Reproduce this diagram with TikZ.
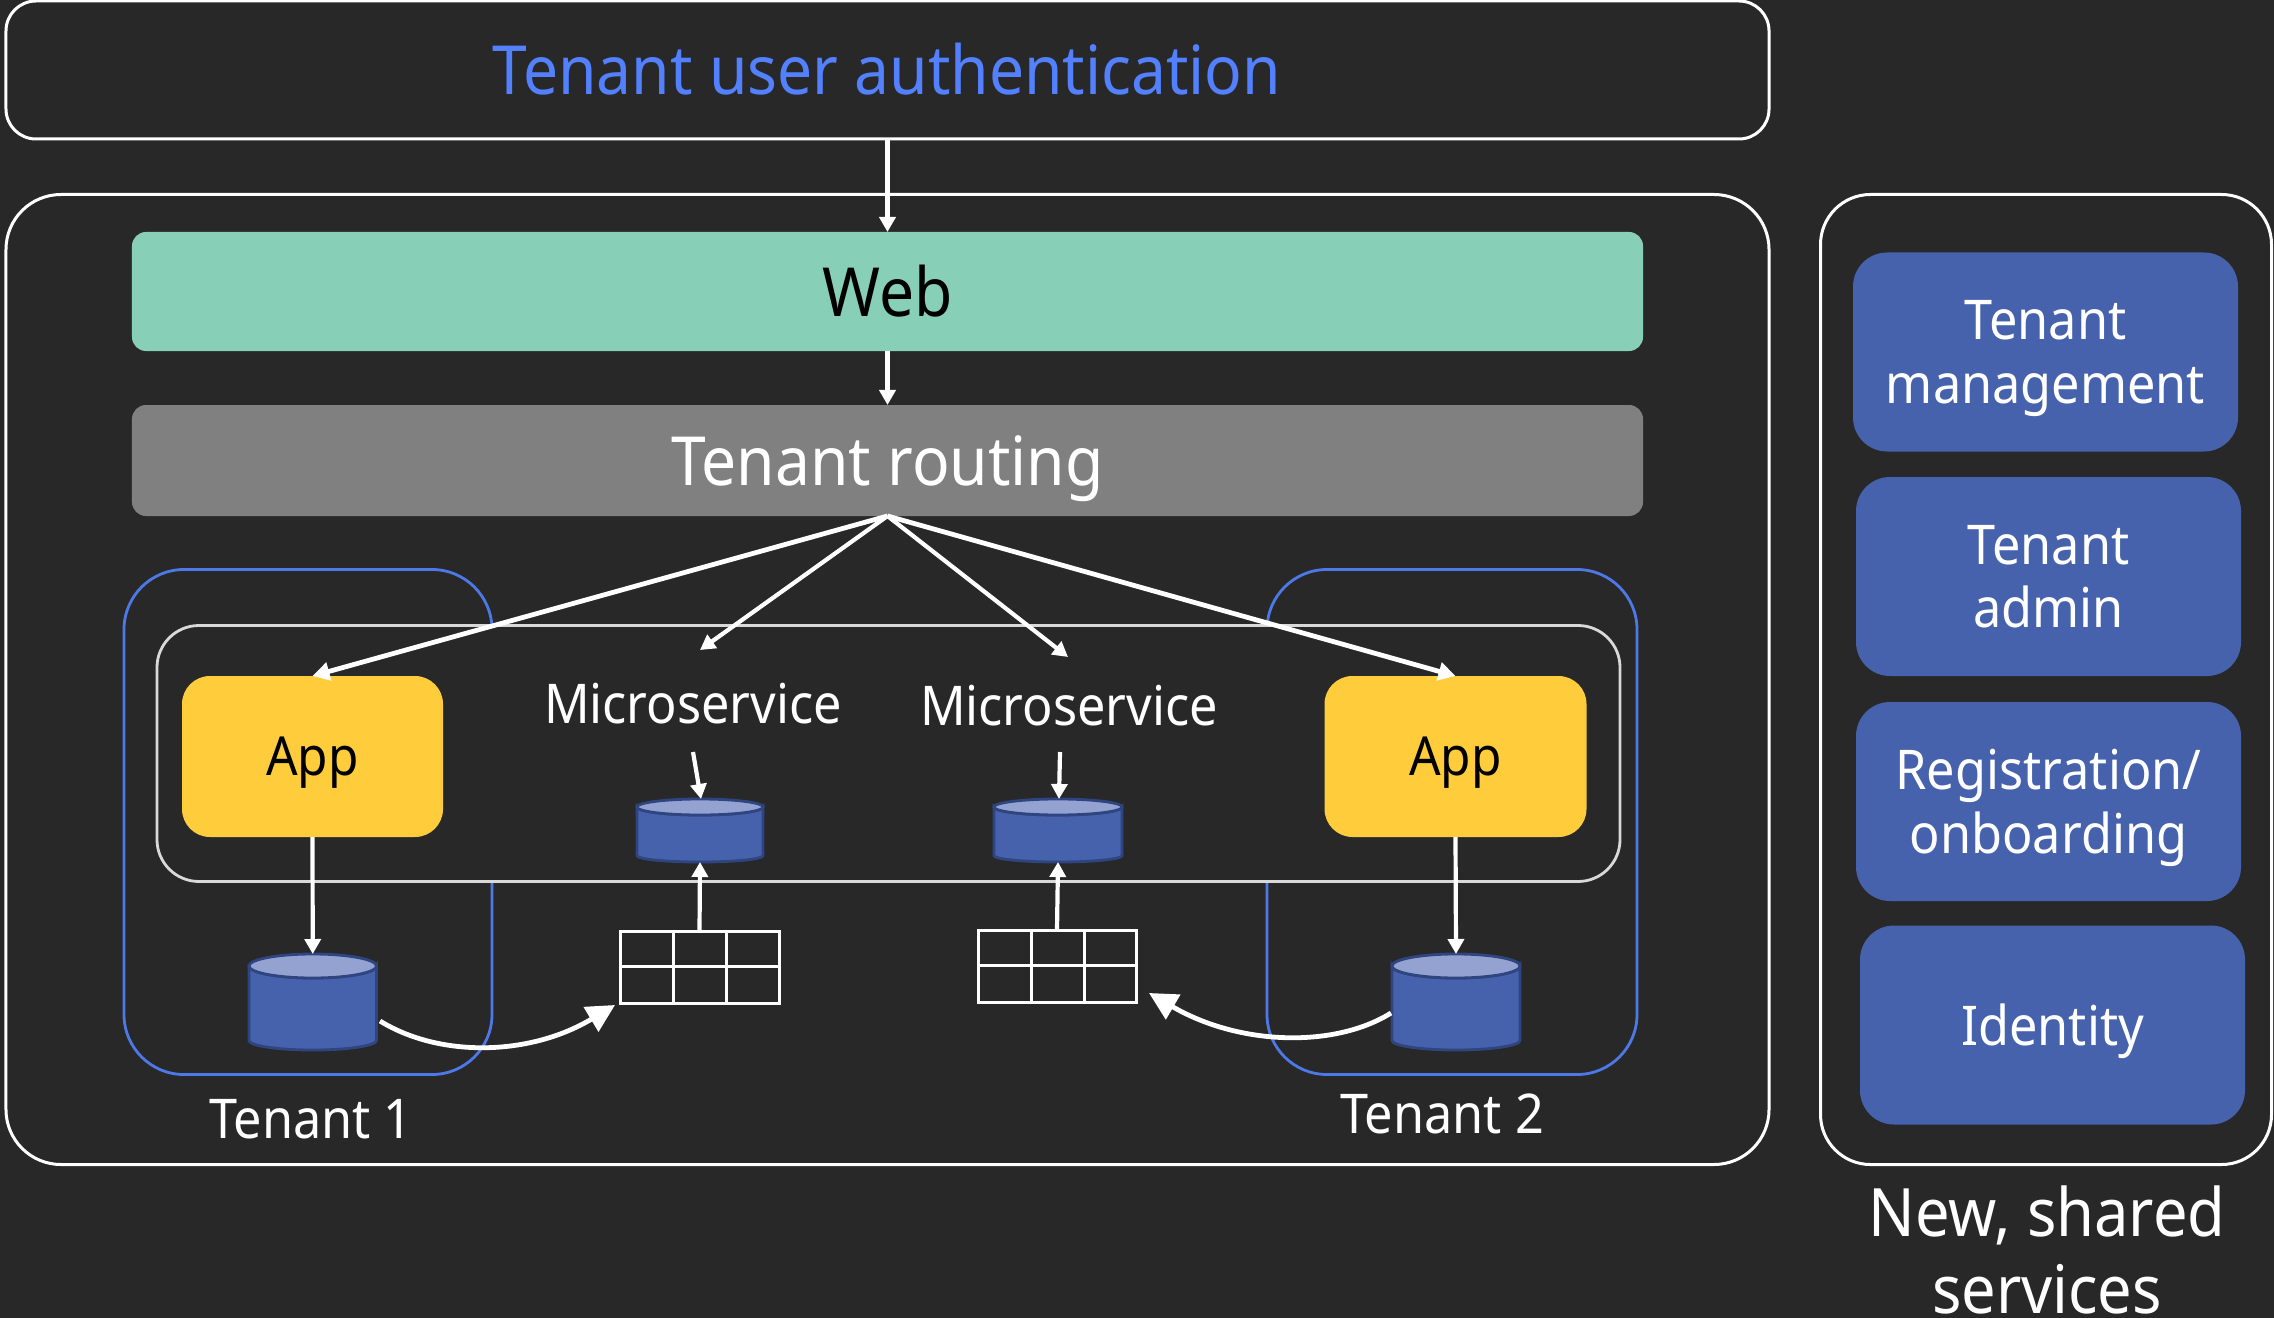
\documentclass[tikz,border=0pt]{standalone}
\usepackage{fontspec}
\setmainfont{Noto Sans}[FakeStretch=0.92]
\usetikzlibrary{arrows.meta}
\definecolor{bg}{HTML}{282828}
\definecolor{authblue}{HTML}{5280FF}
\definecolor{webgreen}{HTML}{88CFB8}
\definecolor{routegray}{HTML}{808080}
\definecolor{appyellow}{HTML}{FFCC3B}
\definecolor{svcblue}{HTML}{4662AC}
\definecolor{cyltop}{HTML}{94A2D2}
\definecolor{cylline}{HTML}{2F4580}
\definecolor{tenantline}{HTML}{4C78E8}
\definecolor{innerline}{HTML}{D9D9D9}
\tikzset{
  x=1bp,y=-1bp,
  box/.style={rectangle,inner sep=0pt,outer sep=0pt,align=center},
  frame/.style={box,draw=white,line width=3bp,rounded corners=#1},
  tenantbox/.style={box,draw=tenantline,line width=2.8bp,rounded corners=60bp},
  bar/.style={box,rounded corners=14bp,text depth=0pt,font=\fontsize{68}{80}\selectfont},
  appbox/.style={box,fill=appyellow,rounded corners=28bp,text=black,text depth=0pt,font=\fontsize{54}{64}\selectfont},
  svc/.style={box,fill=svcblue,rounded corners=34bp,text=white,text depth=0pt,font=\fontsize{55}{64}\selectfont},
  lbl/.style={inner sep=0pt,outer sep=0pt,text=white,align=center,font=\fontsize{55}{64}\selectfont},
  arr/.style={draw=white,line width=4.2bp,-{Triangle[length=15bp,width=16bp]}},
  thickarr/.style={draw=white,line width=4.8bp,-{Triangle[length=17bp,width=18bp]}},
  curvearr/.style={draw=white,line width=4.8bp,-{Triangle[length=28bp,width=28bp]}},
}
% \cylshape{name}{x1}{x2}{y1}{y2}{ry}
\newcommand{\cylshape}[6]{%
  \node[box,minimum width=#3bp-#2bp,minimum height=#5bp-#4bp] (#1) at ({(#2+#3)/2},{(#4+#5)/2}) {};
  \draw[fill=svcblue,draw=cylline,line width=2.8bp]
    (#2,#4+#6) -- (#2,{#5-0.8*#6}) arc[start angle=180,end angle=360,x radius={(#3-#2)/2},y radius={-0.8*#6}]
    -- (#3,#4+#6) arc[start angle=0,end angle=-180,x radius={(#3-#2)/2},y radius=-#6] -- cycle;
  \draw[fill=cyltop,draw=cylline,line width=2.8bp] ({(#2+#3)/2},#4+#6) ellipse[x radius={(#3-#2)/2},y radius=#6];
}
% \gridshape{name}{x1}{x2}{y1}{y2}{v1}{v2}{ymid}
\newcommand{\gridshape}[8]{%
  \node[box,draw=white,line width=3bp,minimum width=#3bp-#2bp,minimum height=#5bp-#4bp] (#1) at ({(#2+#3)/2},{(#4+#5)/2}) {};
  \draw[white,line width=3bp] (#6,#4) -- (#6,#5) (#7,#4) -- (#7,#5) (#2,#8) -- (#3,#8);
}
\begin{document}
\begin{tikzpicture}
\useasboundingbox[fill=bg] (0,0) rectangle (2274,1318);
\clip (0,0) rectangle (2274,1318);

% outer frames
\node[frame=30bp,minimum width=1763bp,minimum height=138bp] (auth) at (887.5,70) {};
\node[text=authblue,inner sep=0pt,font=\fontsize{68}{78}\selectfont] (authtext) at (887,69) {Tenant user authentication};
\node[frame=55bp,minimum width=1763bp,minimum height=970bp] (main) at (887.5,679.5) {};
\node[frame=50bp,minimum width=451bp,minimum height=970bp] (shared) at (2046,679.5) {};

% tenant outlines
\node[tenantbox,minimum width=368bp,minimum height=505bp] (t1) at (308,822) {};
\node[tenantbox,minimum width=370bp,minimum height=505bp] (t2) at (1452,822) {};
\node[box,draw=innerline,fill=bg,line width=2.8bp,rounded corners=42bp,minimum width=1463bp,minimum height=256bp] (inner) at (888.5,753.5) {};

% bars
\node[bar,fill=webgreen,text=black,minimum width=1511bp,minimum height=119bp,text height=50bp] (web) at (887.5,291.5) {Web};
\node[bar,fill=routegray,text=white,minimum width=1511bp,minimum height=111bp,text height=50bp] (routing) at (887.5,460.5) {Tenant routing};

% apps
\node[appbox,minimum width=261bp,minimum height=161bp] (app1) at (312.5,756.5) {App};
\node[appbox,minimum width=262bp,minimum height=161bp] (app2) at (1455.5,756.5) {App};

% microservice labels
\node[lbl] (ms1) at (693,704) {Microservice};
\node[lbl] (ms2) at (1069,706) {Microservice};

% data stores
\cylshape{db1}{249}{376.5}{954}{1050}{12}
\cylshape{db2}{1392}{1520}{954}{1050}{12}
\cylshape{ms1db}{637}{763}{799}{862}{8}
\cylshape{ms2db}{994}{1122}{799}{862}{8}
\gridshape{grid1}{620}{779}{931}{1003}{673.5}{726}{966}
\gridshape{grid2}{978}{1136}{930}{1002}{1031}{1084}{965}

% tenant labels
\node[lbl] (t1label) at (311,1119) {Tenant 1};
\node[lbl] (t2label) at (1442,1114) {Tenant 2};

% shared services
\node[svc,minimum width=385bp,minimum height=199bp] (mgmt) at (2045.5,352) {Tenant\\management};
\node[svc,minimum width=385bp,minimum height=199bp] (admin) at (2048.5,576.5) {Tenant\\admin};
\node[svc,minimum width=385bp,minimum height=199bp] (reg) at (2048.5,801.5) {Registration/\\onboarding};
\node[svc,minimum width=385bp,minimum height=199bp] (identity) at (2052.5,1025) {Identity};
\node[lbl,font=\fontsize{67}{77}\selectfont] (sharedlabel) at (2047,1250) {New, shared\\services};

% connector ends
\coordinate (route) at (routing.south);
\coordinate (ms1top) at (700,650);
\coordinate (ms2top) at (1068,657);
\coordinate (ms1from) at (693,752);
\coordinate (ms1to) at (701,799);
\coordinate (ms2from) at (1060,752);
\coordinate (ms2to) at (1059,799);
\coordinate (c1s) at (380,1021);
\coordinate (c1e) at (615,1005);
\coordinate (c2s) at (1391,1013);
\coordinate (c2e) at (1149,993);

% connectors
\draw[arr] (auth.south) -- (web.north);
\draw[arr] (web.south) -- (routing.north);
\draw[thickarr] (route) -- (app1.north);
\draw[arr] (route) -- (ms1top);
\draw[arr] (route) -- (ms2top);
\draw[thickarr] (route) -- (app2.north);
\draw[arr] (ms1from) -- (ms1to);
\draw[arr] (ms2from) -- (ms2to);
\draw[arr] (app1.south) -- (db1.north);
\draw[arr] (app2.south) -- (db2.north);
\draw[arr] (grid1.north) -- (ms1db.south);
\draw[arr] (grid2.north) -- (ms2db.south);
\draw[curvearr] (c1s) .. controls (440,1058) and (530,1056) .. (c1e);
\draw[curvearr] (c2s) .. controls (1335,1048) and (1240,1046) .. (c2e);
\end{tikzpicture}
\end{document}
